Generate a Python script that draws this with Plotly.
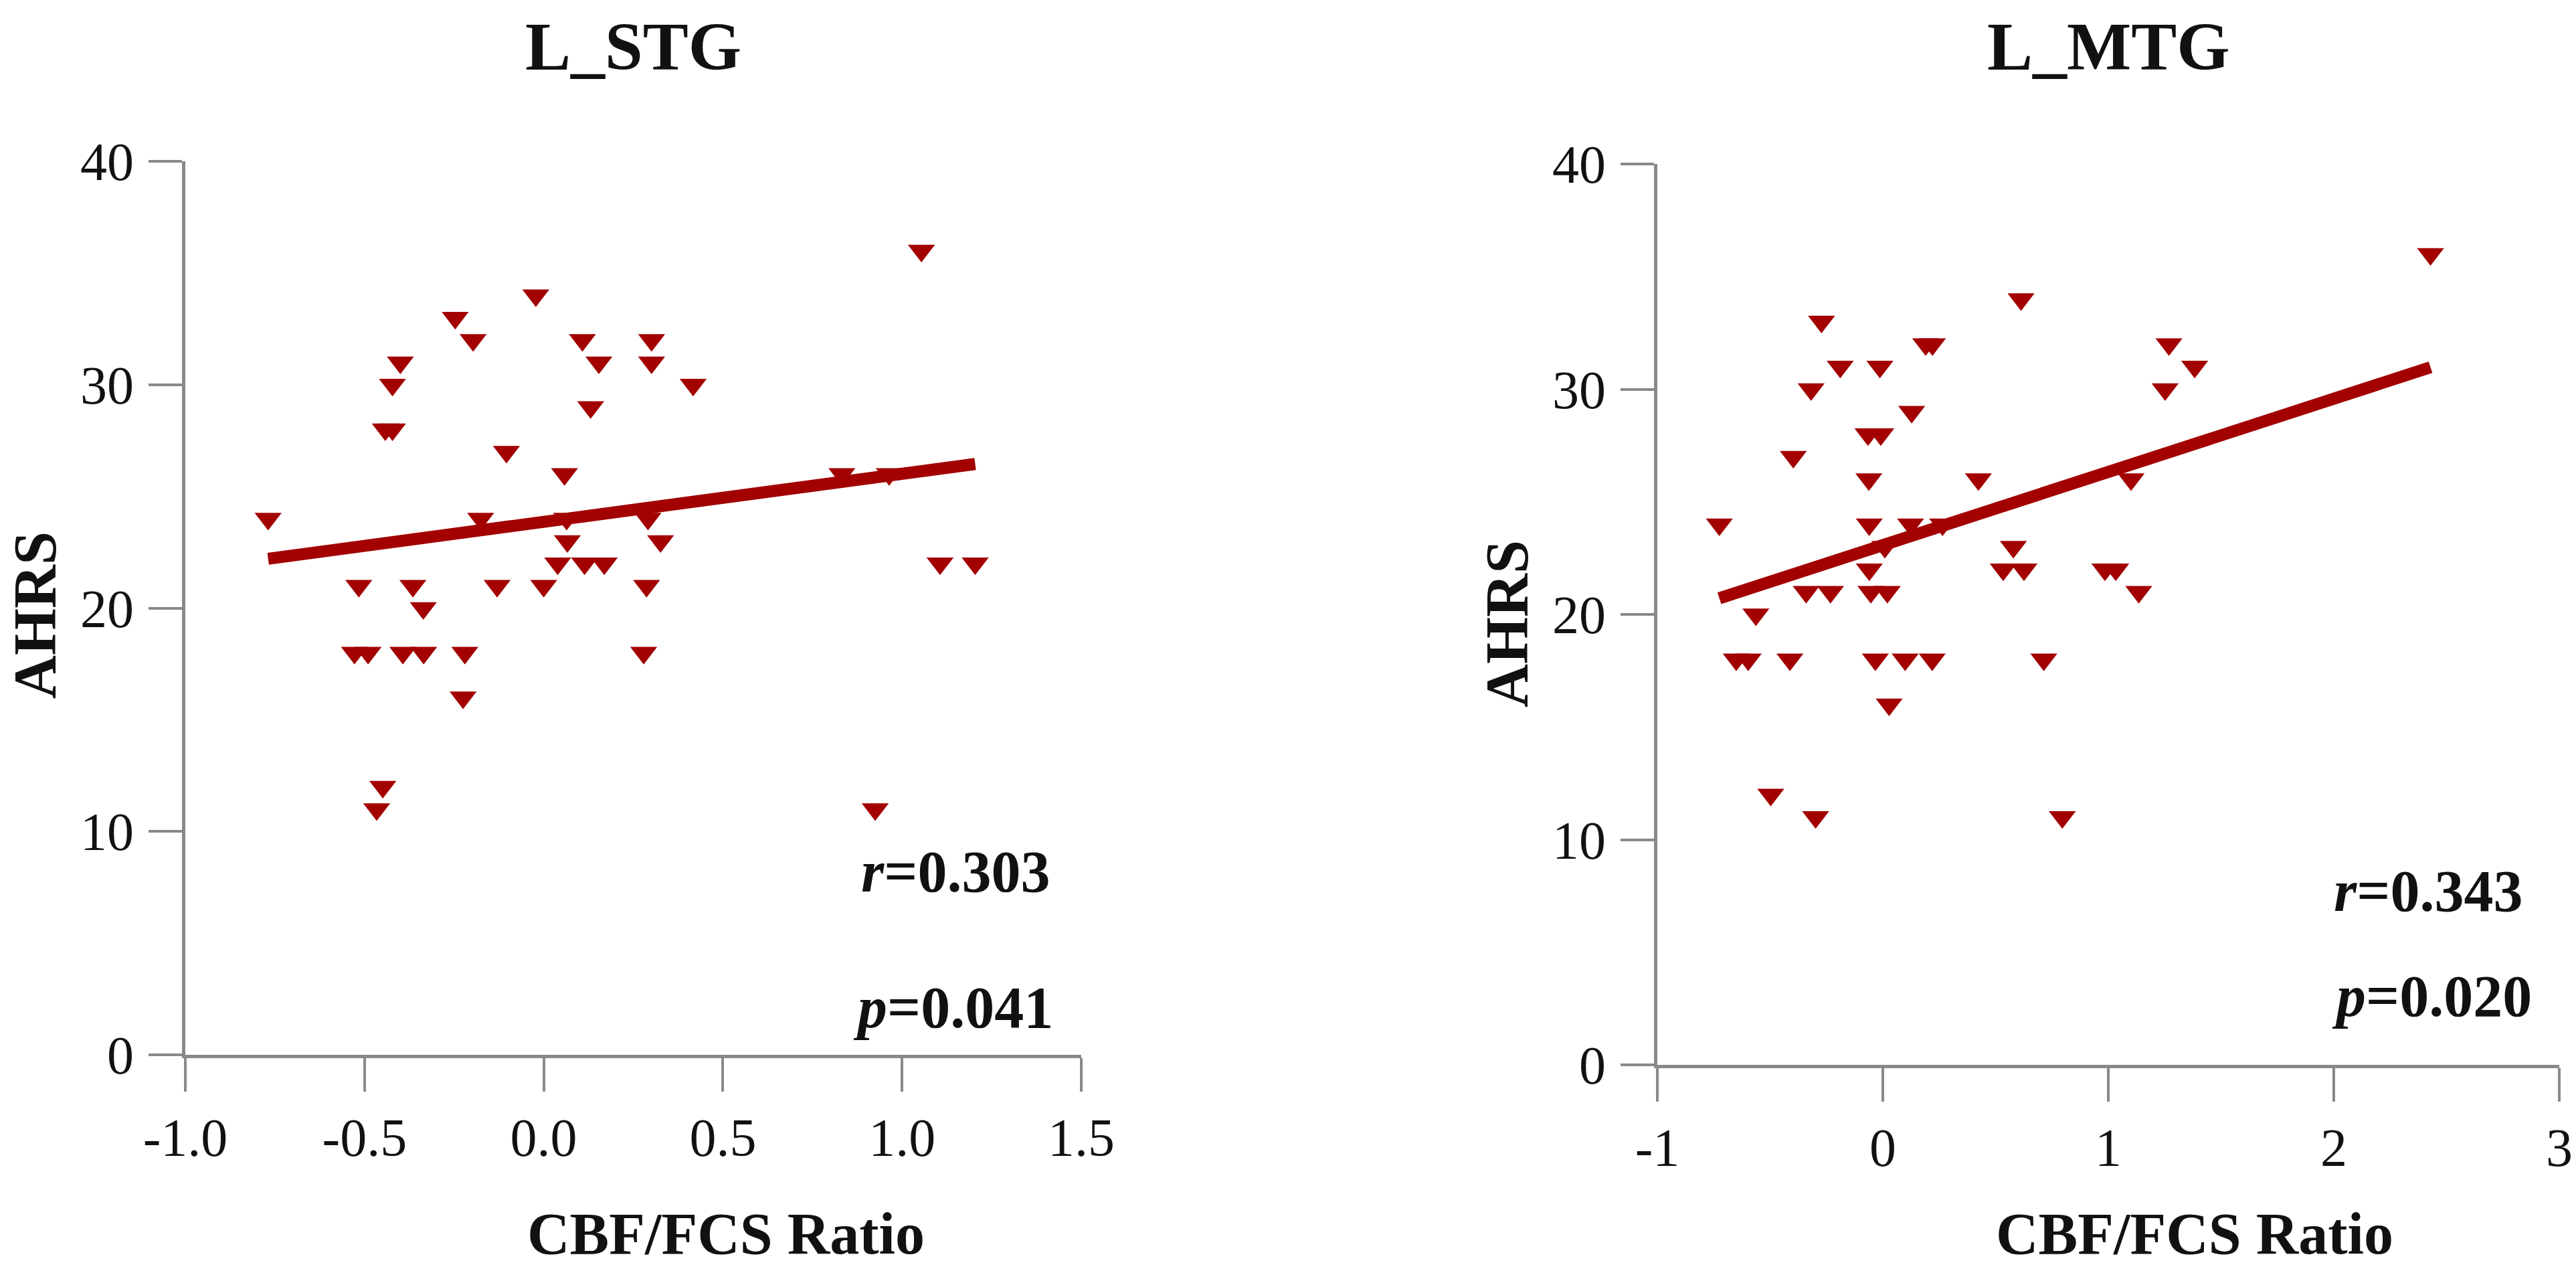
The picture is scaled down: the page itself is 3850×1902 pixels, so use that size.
import numpy as np
import plotly.graph_objects as go

W, H = 3850, 1902

# ---- data ----
stg_ratio = [1.054, -0.022, -0.247, -0.197, 0.108, 0.301, -0.400, 0.154, 0.301, -0.422,
             0.417, 0.131, -0.442, -0.422, -0.104, 0.058, 0.832, 0.964, -0.769, -0.176,
             0.064, 0.291, 0.066, 0.326, 0.039, 0.114, 0.169, 1.106, 1.204, -0.516,
             -0.365, -0.130, 0.000, 0.287, -0.336, -0.528, -0.490, -0.393, -0.335, -0.220,
             0.279, -0.225, -0.449, -0.466, 0.925]
stg_ahrs = [36, 34, 33, 32, 32, 32, 31, 31, 31, 30,
            30, 29, 28, 28, 27, 26, 26, 26, 24, 24,
            24, 24, 23, 23, 22, 22, 22, 22, 22, 21,
            21, 21, 21, 21, 20, 18, 18, 18, 18, 18,
            18, 16, 12, 11, 11]

mtg_ratio = [2.429, 0.613, -0.272, 0.190, 0.220, 1.269, -0.189, -0.013, 1.383, -0.318,
             1.252, 0.128, -0.066, -0.009, -0.397, -0.062, 0.424, 1.101, -0.725, -0.060,
             0.123, 0.265, 0.009, 0.579, -0.060, 0.534, 0.626, 0.985, 1.033, -0.340,
             -0.232, -0.053, 0.020, 1.135, -0.563, -0.650, -0.597, -0.412, -0.033, 0.099,
             0.219, 0.714, 0.028, -0.497, -0.298, 0.796]
mtg_ahrs = [36, 34, 33, 32, 32, 32, 31, 31, 31, 30,
            30, 29, 28, 28, 27, 26, 26, 26, 24, 24,
            24, 24, 23, 23, 22, 22, 22, 22, 22, 21,
            21, 21, 21, 21, 20, 18, 18, 18, 18, 18,
            18, 18, 16, 12, 11, 11]

titles = ["L_STG", "L_MTG"]
stats_r = ["0.303", "0.343"]
stats_p = ["0.041", "0.020"]
x_label = "CBF/FCS Ratio"
y_label = "AHRS"
stg_xticks = [-1.0, -0.5, 0.0, 0.5, 1.0, 1.5]
stg_xticklabels = ["-1.0", "-0.5", "0.0", "0.5", "1.0", "1.5"]
mtg_xticks = [-1, 0, 1, 2, 3]
mtg_xticklabels = ["-1", "0", "1", "2", "3"]
y_ticks = [0, 10, 20, 30, 40]
y_ticklabels = ["0", "10", "20", "30", "40"]

RED = "#A30000"
AXC = "#898989"
FONT = "Liberation Serif"


def px(x):
    return x / W


def py(y):
    return 1 - y / H


fig = go.Figure()


def add_panel(xs, ys, xa, ya):
    fig.add_trace(go.Scatter(
        x=xs, y=ys, mode="markers", xaxis=xa, yaxis=ya,
        marker=dict(symbol="triangle-down", size=35, color=RED, line=dict(width=0)),
        showlegend=False, hoverinfo="skip"))
    xarr = np.array(xs)
    slope, icpt = np.polyfit(xarr, np.array(ys), 1)
    lx = np.array([xarr.min(), xarr.max()])
    fig.add_trace(go.Scatter(
        x=lx, y=slope * lx + icpt, mode="lines", xaxis=xa, yaxis=ya,
        line=dict(color=RED, width=18), showlegend=False, hoverinfo="skip"))


add_panel(stg_ratio, stg_ahrs, "x", "y")
add_panel(mtg_ratio, mtg_ahrs, "x2", "y2")

axis_common = dict(showline=True, linecolor=AXC, linewidth=5, ticks="outside",
                   ticklen=50, tickwidth=4, tickcolor=AXC, showgrid=False,
                   zeroline=False, automargin=False,
                   tickfont=dict(family=FONT, size=80, color="#111111"))

fig.update_layout(
    template="none",
    width=W, height=H, margin=dict(l=0, r=0, t=0, b=0),
    paper_bgcolor="white", plot_bgcolor="white",
    xaxis=dict(domain=[px(277), px(1616)], range=[-1.0, 1.5], tickvals=stg_xticks,
               ticktext=stg_xticklabels, anchor="y",
               ticklabelstandoff=0, **axis_common),
    yaxis=dict(domain=[py(1576), py(241)], range=[0, 40], tickvals=y_ticks,
               ticktext=y_ticklabels, anchor="x",
               ticklabelstandoff=6, **axis_common),
    xaxis2=dict(domain=[px(2477), px(3825)], range=[-1, 3], tickvals=mtg_xticks,
                ticktext=mtg_xticklabels, anchor="y2", ticklabelstandoff=0, **axis_common),
    yaxis2=dict(domain=[py(1591), py(245)], range=[0, 40], tickvals=y_ticks,
                ticktext=y_ticklabels, anchor="x2",
                ticklabelstandoff=6, **axis_common),
)

ann = []
panels = [
    dict(title_x=946, xlab_x=1085, ylab_x=52, ylab_y=919, r_x=1571, r_y=1302, p_x=1576, p_y=1505),
    dict(title_x=3151, xlab_x=3280, ylab_x=2252, ylab_y=932, r_x=3772, r_y=1331, p_x=3786, p_y=1488),
]
for i, pnl in enumerate(panels):
    ann.append(dict(x=px(pnl["title_x"]), y=py(70), xref="paper", yref="paper",
                    text=f"<b>{titles[i]}</b>", showarrow=False, xanchor="center",
                    yanchor="middle", font=dict(family=FONT, size=102, color="#111111")))
    ann.append(dict(x=px(pnl["xlab_x"]), y=py(1843), xref="paper", yref="paper",
                    text=f"<b>{x_label}</b>", showarrow=False, xanchor="center",
                    yanchor="middle", font=dict(family=FONT, size=88, color="#111111")))
    ann.append(dict(x=px(pnl["ylab_x"]), y=py(pnl["ylab_y"]), xref="paper", yref="paper",
                    text=f"<b>{y_label}</b>", showarrow=False, textangle=-90,
                    xanchor="center", yanchor="middle",
                    font=dict(family=FONT, size=90, color="#111111")))
    ann.append(dict(x=px(pnl["r_x"]), y=py(pnl["r_y"]), xref="paper", yref="paper",
                    text=f"<b><i>r</i>={stats_r[i]}</b>", showarrow=False, xanchor="right",
                    yanchor="middle", font=dict(family=FONT, size=88, color="#111111")))
    ann.append(dict(x=px(pnl["p_x"]), y=py(pnl["p_y"]), xref="paper", yref="paper",
                    text=f"<b><i>p</i>={stats_p[i]}</b>", showarrow=False, xanchor="right",
                    yanchor="middle", font=dict(family=FONT, size=88, color="#111111")))
fig.update_layout(annotations=ann)

fig.write_html("out.html", config={"displayModeBar": False},
               post_script="document.body.style.margin='0';"
                           "document.body.style.overflow='hidden';")
